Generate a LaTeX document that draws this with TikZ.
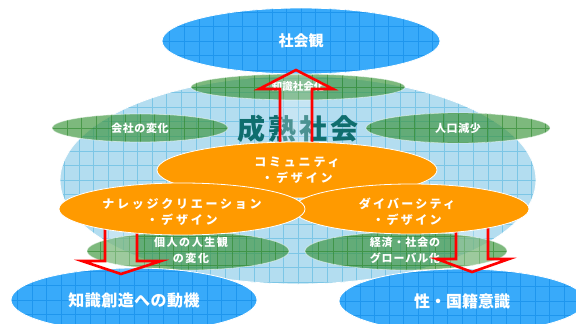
\documentclass[tikz,border=0pt]{standalone}
\usepackage{fontspec}
\newfontfamily\jp{Noto Sans CJK JP}
\usetikzlibrary{shapes.geometric}
\definecolor{lbfill}{HTML}{B3DDF0}
\definecolor{lbgrid}{HTML}{7CC6E6}
\definecolor{bfill}{HTML}{38AAFA}
\definecolor{bgrid}{HTML}{1E96EE}
\definecolor{gfill}{HTML}{3A943A}
\definecolor{ggrid}{HTML}{2A862A}
\definecolor{ofill}{HTML}{FF9A00}
\definecolor{teal}{HTML}{0F6E6E}
\begin{document}
\begin{tikzpicture}[x=1pt,y=-1pt,
  ell/.style={ellipse, inner sep=0pt, outer sep=0pt, draw=white, line width=0.8pt},
  gridpic/.style={path picture={\draw[#1, line width=0.5pt] (path picture bounding box.south west) grid[step=14.6pt] (path picture bounding box.north east);}},
  blueell/.style={ell, fill=bfill, gridpic=bgrid},
  greenell/.style={ell, draw=white, draw opacity=0.5, fill=gfill, fill opacity=0.66, gridpic={ggrid, opacity=0.6}},
  orangeell/.style={ell, fill=ofill},
  wtxt/.style={text=white, font=\jp\bfseries, align=center, inner sep=0pt},
  arrowbox/.style={draw=red, line width=2.6pt, fill=white, fill opacity=0.25, line join=miter}]
\useasboundingbox (0,0) rectangle (576,324);
% big light blue
\node[ell, fill=lbfill, gridpic=lbgrid, minimum width=476pt, minimum height=208pt] (seijuku) at (298,180) {};
\node[text=teal, font=\jp\bfseries\fontsize{28}{30}\selectfont\addfontfeatures{LetterSpace=11}, inner sep=0pt] (seijukut) at (298,129) {成熟社会};
% green ellipses
\node[greenell, minimum width=214pt, minimum height=26pt] (chishikika) at (298,87) {};
\node[greenell, minimum width=176pt, minimum height=28pt] (kaisha) at (140,128) {};
\node[greenell, minimum width=184pt, minimum height=30pt] (jinko) at (458,128) {};
\node[greenell, minimum width=202pt, minimum height=38pt] (kojin) at (188,251) {};
\node[greenell, minimum width=202pt, minimum height=38pt] (keizai) at (406,251) {};
% blue ellipses
\node[blueell, minimum width=278pt, minimum height=66pt] (shakaikan) at (301,41) {};
\node[blueell, minimum width=246pt, minimum height=64pt] (sozo) at (134,300) {};
\node[blueell, minimum width=246pt, minimum height=64pt] (sei) at (462,301) {};
% texts
\node[wtxt, font=\jp\bfseries\fontsize{15}{17}\selectfont] at (shakaikan) {社会観};
\node[wtxt, font=\jp\bfseries\fontsize{10.5}{12}\selectfont] at (chishikika) {知識社会化};
\node[wtxt, font=\jp\bfseries\fontsize{11}{13}\selectfont\addfontfeatures{LetterSpace=5}] at (kaisha) {会社の変化};
\node[wtxt, font=\jp\bfseries\fontsize{11}{13}\selectfont\addfontfeatures{LetterSpace=5}] at (jinko) {人口減少};
\node[wtxt, font=\jp\bfseries\fontsize{11}{15.5}\selectfont\addfontfeatures{LetterSpace=14}] at (191,250.5) {個人の人生観\\の変化};
\node[wtxt, font=\jp\bfseries\fontsize{11}{15.5}\selectfont\addfontfeatures{LetterSpace=8}] at (405,250.5) {経済・社会の\\グローバル化};
\node[wtxt, font=\jp\bfseries\fontsize{16}{18}\selectfont\addfontfeatures{LetterSpace=3}] at (sozo) {知識創造への動機};
\node[wtxt, font=\jp\bfseries\fontsize{16}{18}\selectfont] at (sei) {性・国籍意識};
% arrows
\draw[arrowbox] (280,150) -- (280,89) -- (259,89) -- (296,70) -- (333,89) -- (312,89) -- (312,150) -- cycle;
\draw[arrowbox] (105,222) -- (105,261) -- (82,261) -- (121,274) -- (161,261) -- (137,261) -- (137,222) -- cycle;
\draw[arrowbox] (456,222) -- (456,259) -- (437,259) -- (472,272) -- (509,259) -- (488,259) -- (488,222) -- cycle;
% orange ellipses
\node[orangeell, minimum width=280pt, minimum height=56pt] (community) at (297,170) {};
\node[orangeell, minimum width=236pt, minimum height=50pt] (diversity) at (411,209) {};
\node[orangeell, minimum width=246pt, minimum height=52pt] (knowledge) at (182,209) {};
\node[wtxt, font=\jp\bfseries\fontsize{12}{16}\selectfont\addfontfeatures{LetterSpace=23}] at (297,170.5) {コミュニティ\\・デザイン};
\node[wtxt, font=\jp\bfseries\fontsize{12}{16}\selectfont\addfontfeatures{LetterSpace=23}] at (182,212) {ナレッジクリエーション\\・デザイン};
\node[wtxt, font=\jp\bfseries\fontsize{12}{16}\selectfont\addfontfeatures{LetterSpace=19}] at (407,212) {ダイバーシティ\\・デザイン};
\end{tikzpicture}
\end{document}
